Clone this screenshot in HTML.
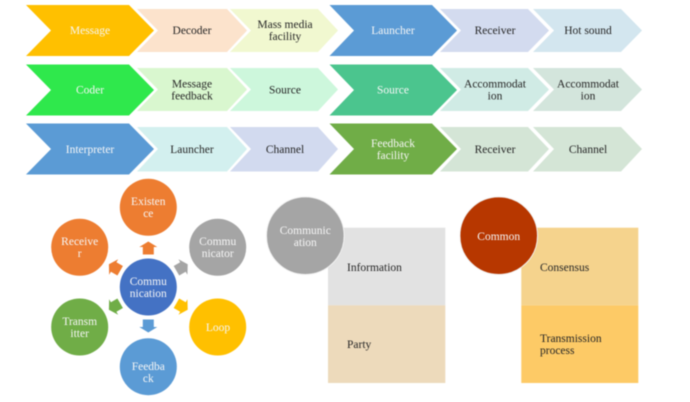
<!DOCTYPE html>
<html>
<head>
<meta charset="utf-8">
<style>
html,body{margin:0;padding:0;background:#fff;width:690px;height:402px;overflow:hidden}
svg{display:block;filter:blur(0.5px)}
text{font-family:"Liberation Serif",serif;font-size:11.5px;text-anchor:middle}
.w{fill:#f6f6f6}
.d{fill:#262626}
.l{text-anchor:start}
polygon.h{stroke:#fff;stroke-width:3;paint-order:stroke;stroke-linejoin:miter}
</style>
</head>
<body>
<svg width="690" height="402" viewBox="0 0 690 402" xmlns="http://www.w3.org/2000/svg">
<rect width="690" height="402" fill="#fff"/>

<!-- Row 1 left -->
<polygon points="230,9 318,9 338,30.5 318,52 230,52 251,30.5" fill="#f1f8d0"/>
<polygon class="h" points="137,9 227,9 247,30.5 227,52 137,52 158,30.5" fill="#fce3cc"/>
<polygon class="h" points="26,5 129,5 154,30.5 129,56 26,56 51,30.5" fill="#ffc000"/>
<!-- Row 1 right -->
<polygon points="533,9 621,9 642,30.5 621,52 533,52 554,30.5" fill="#d3e6ef"/>
<polygon class="h" points="440,9 528,9 549,30.5 528,52 440,52 461,30.5" fill="#d3dbef"/>
<polygon class="h" points="329.5,5 432,5 457,30.5 432,56 329.5,56 354,30.5" fill="#5b9bd5"/>

<!-- Row 2 left -->
<polygon points="230,68 318,68 338,89.5 318,111 230,111 251,89.5" fill="#cdf7dc"/>
<polygon class="h" points="137,68 227,68 247,89.5 227,111 137,111 158,89.5" fill="#d9f7cf"/>
<polygon class="h" points="26,64.5 129,64.5 154,90 129,115.5 26,115.5 51,90" fill="#2fe84c"/>
<!-- Row 2 right -->
<polygon points="533,68 621,68 642,89.5 621,111 533,111 554,89.5" fill="#d3e5dc"/>
<polygon class="h" points="440,68 528,68 549,89.5 528,111 440,111 461,89.5" fill="#d0ebe5"/>
<polygon class="h" points="329.5,64.5 432,64.5 457,90 432,115.5 329.5,115.5 354,90" fill="#4bc58e"/>

<!-- Row 3 left -->
<polygon points="230,127 318,127 338,149 318,171.5 230,171.5 251,149" fill="#d2daef"/>
<polygon class="h" points="137,127 227,127 247,149 227,171.5 137,171.5 158,149" fill="#d3f0ef"/>
<polygon class="h" points="26,123.5 129,123.5 154,149 129,174.5 26,174.5 51,149" fill="#5b9bd5"/>
<!-- Row 3 right -->
<polygon points="533,127 621,127 642,149 621,171.5 533,171.5 554,149" fill="#d4e5d6"/>
<polygon class="h" points="440,127 528,127 549,149 528,171.5 440,171.5 461,149" fill="#d4e5d6"/>
<polygon class="h" points="329.5,123.5 432,123.5 457,149 432,174.5 329.5,174.5 354,149" fill="#70ad47"/>

<!-- Chevron labels -->
<text class="w" x="90" y="34">Message</text>
<text class="d" x="192" y="34">Decoder</text>
<text class="d" x="285" y="28">Mass media</text>
<text class="d" x="285" y="40">facility</text>
<text class="w" x="393" y="34">Launcher</text>
<text class="d" x="495" y="34">Receiver</text>
<text class="d" x="588" y="34">Hot sound</text>

<text class="w" x="90" y="93.5">Coder</text>
<text class="d" x="192" y="87.5">Message</text>
<text class="d" x="192" y="99.5">feedback</text>
<text class="d" x="285" y="93.5">Source</text>
<text class="w" x="393" y="93.5">Source</text>
<text class="d" x="495" y="87.5">Accommodat</text>
<text class="d" x="495" y="99.5">ion</text>
<text class="d" x="588" y="87.5">Accommodat</text>
<text class="d" x="588" y="99.5">ion</text>

<text class="w" x="90" y="153">Interpreter</text>
<text class="d" x="192" y="153">Launcher</text>
<text class="d" x="285" y="153">Channel</text>
<text class="w" x="393" y="147">Feedback</text>
<text class="w" x="393" y="159">facility</text>
<text class="d" x="495" y="153">Receiver</text>
<text class="d" x="588" y="153">Channel</text>

<!-- Cycle arrows -->
<g transform="translate(148.3,287)">
<polygon transform="rotate(0) translate(0,-39)" points="0,-6.5 9,-1 5.5,-1 5.5,6.5 -5.5,6.5 -5.5,-1 -9,-1" fill="#ed7d31"/>
<polygon transform="rotate(60) translate(0,-39)" points="0,-6.5 9,-1 5.5,-1 5.5,6.5 -5.5,6.5 -5.5,-1 -9,-1" fill="#a5a5a5"/>
<polygon transform="rotate(120) translate(0,-39)" points="0,-6.5 9,-1 5.5,-1 5.5,6.5 -5.5,6.5 -5.5,-1 -9,-1" fill="#ffc000"/>
<polygon transform="rotate(180) translate(0,-39)" points="0,-6.5 9,-1 5.5,-1 5.5,6.5 -5.5,6.5 -5.5,-1 -9,-1" fill="#5b9bd5"/>
<polygon transform="rotate(240) translate(0,-39)" points="0,-6.5 9,-1 5.5,-1 5.5,6.5 -5.5,6.5 -5.5,-1 -9,-1" fill="#70ad47"/>
<polygon transform="rotate(300) translate(0,-39)" points="0,-6.5 9,-1 5.5,-1 5.5,6.5 -5.5,6.5 -5.5,-1 -9,-1" fill="#ed7d31"/>
</g>

<!-- Cycle circles -->
<circle cx="148.3" cy="207.3" r="28.5" fill="#ed7d31"/>
<circle cx="217.7" cy="247.3" r="28.5" fill="#a5a5a5"/>
<circle cx="217.7" cy="327" r="28.5" fill="#ffc000"/>
<circle cx="148.3" cy="366.7" r="28.5" fill="#5b9bd5"/>
<circle cx="79.7" cy="327" r="28.5" fill="#70ad47"/>
<circle cx="79.7" cy="247.3" r="28.5" fill="#ed7d31"/>
<circle cx="148.3" cy="287" r="28.5" fill="#4472c4"/>

<text class="w" x="148.3" y="205">Existen</text>
<text class="w" x="148.3" y="217">ce</text>
<text class="w" x="217.7" y="245">Commu</text>
<text class="w" x="217.7" y="257">nicator</text>
<text class="w" x="218" y="331">Loop</text>
<text class="w" x="148.3" y="370">Feedba</text>
<text class="w" x="148.3" y="382">ck</text>
<text class="w" x="79.7" y="325">Transm</text>
<text class="w" x="79.7" y="337">itter</text>
<text class="w" x="79.7" y="245">Receive</text>
<text class="w" x="79.7" y="257">r</text>
<text class="w" x="148.3" y="285">Commu</text>
<text class="w" x="148.3" y="297">nication</text>

<!-- Stack 1 -->
<rect x="328" y="227.7" width="117.3" height="77.6" fill="#e2e2e2"/>
<rect x="328" y="305.3" width="117.3" height="77.7" fill="#eddabb"/>
<circle cx="305.3" cy="235.7" r="38.8" fill="#a5a5a5" stroke="#f2f2f2" stroke-width="1"/>
<text class="w" x="305.3" y="234">Communic</text>
<text class="w" x="305.3" y="246">ation</text>
<text class="d l" x="347" y="271">Information</text>
<text class="d l" x="347" y="348">Party</text>

<!-- Stack 2 -->
<rect x="521.3" y="227.7" width="117" height="77.6" fill="#f5d38d"/>
<rect x="521.3" y="305.3" width="117" height="77.7" fill="#fdca66"/>
<circle cx="498.7" cy="235.7" r="38.8" fill="#b73700" stroke="#f2f2f2" stroke-width="1"/>
<text class="w" x="498.7" y="240">Common</text>
<text class="d l" x="540" y="271">Consensus</text>
<text class="d l" x="540" y="342">Transmission</text>
<text class="d l" x="540" y="354">process</text>
</svg>
</body>
</html>
